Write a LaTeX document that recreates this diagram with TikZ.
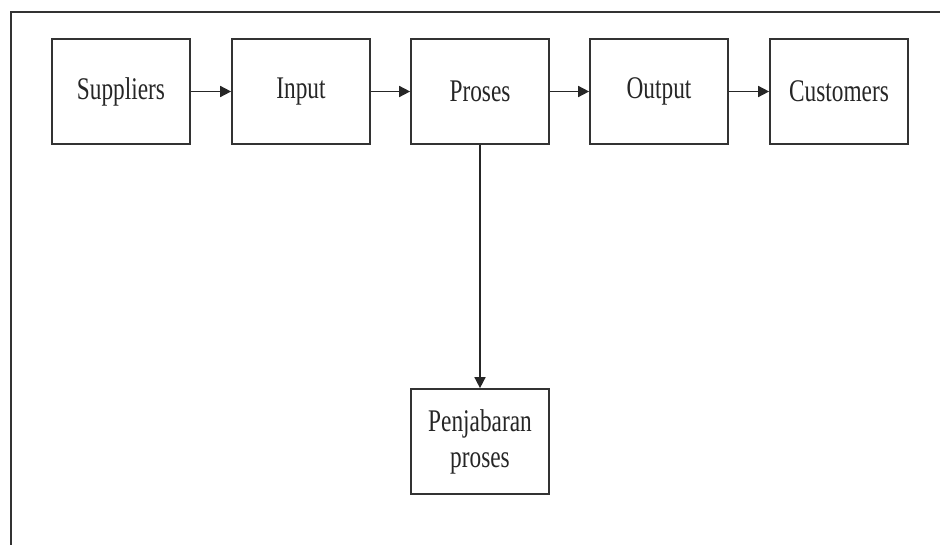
\documentclass[tikz,border=0pt]{standalone}
\usepackage{fontspec}
\setmainfont{Liberation Serif}[FakeStretch=0.74]
\usetikzlibrary{arrows.meta}
\begin{document}
\begin{tikzpicture}[x=1pt,y=-1pt,
  blk/.style={draw=black!80, line width=1.7pt, minimum width=138pt, minimum height=105pt, inner sep=0pt, align=center, font=\fontsize{31.5}{36}\selectfont, text=black!85},
  conn/.style={draw=black!85, line width=1.6pt, -{Triangle[length=11pt,width=11pt]}}]
\useasboundingbox (0,0) rectangle (940,545);
\draw[line width=1.6pt, black!80] (11,545) -- (11,12) -- (940,12);
\node[blk] (sup) at (121,91.5) {Suppliers};
\node[blk] (inp) at (301,91.5) {Input};
\node[blk] (pro) at (480,91.5) {Proses};
\node[blk] (out) at (659,91.5) {Output};
\node[blk] (cus) at (839,91.5) {Customers};
\node[blk] (pen) at (480,441.5) {Penjabaran\\proses};
\draw[conn] (sup) -- (inp);
\draw[conn] (inp) -- (pro);
\draw[conn] (pro) -- (out);
\draw[conn] (out) -- (cus);
\draw[conn] (pro) -- (pen);
\end{tikzpicture}
\end{document}
